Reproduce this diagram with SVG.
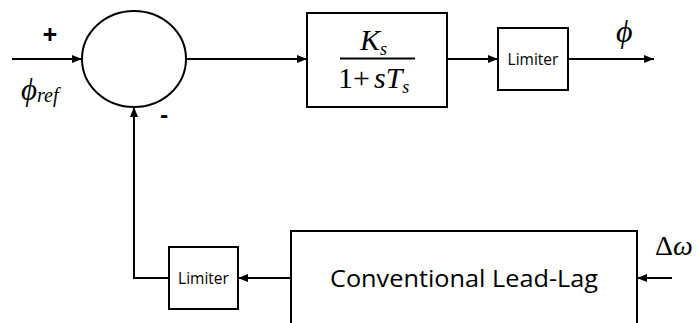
<svg xmlns="http://www.w3.org/2000/svg" width="697" height="323" viewBox="0 0 697 323">
<defs>
<marker id="arr" markerWidth="10" markerHeight="8" refX="10" refY="4" orient="auto" markerUnits="userSpaceOnUse">
<path d="M0,0 L10,4 L0,8 Z" fill="#000"/>
</marker>
<style>
.box{fill:#fff;stroke:#000;stroke-width:2}
.ln{fill:none;stroke:#000;stroke-width:2}
.sans{font-family:"Open Sans","Noto Sans","Liberation Sans",sans-serif;fill:#000}
.math{font-family:"Liberation Serif","DejaVu Serif",serif;fill:#000}
</style>
</defs>
<rect width="697" height="323" fill="#fff"/>
<g id="connectors">
<line class="ln" x1="12" y1="59" x2="82" y2="59" marker-end="url(#arr)"/>
<line class="ln" x1="186" y1="59" x2="307" y2="59" marker-end="url(#arr)"/>
<line class="ln" x1="447" y1="59" x2="498" y2="59" marker-end="url(#arr)"/>
<line class="ln" x1="568" y1="59" x2="654" y2="59" marker-end="url(#arr)"/>
<line class="ln" x1="672" y1="278" x2="637" y2="278" marker-end="url(#arr)"/>
<line class="ln" x1="291" y1="278" x2="238" y2="278" marker-end="url(#arr)"/>
<polyline class="ln" points="169,278 134,278 134,107" marker-end="url(#arr)"/>
</g>
<g id="sum">
<ellipse class="box" cx="134" cy="59" rx="52" ry="48"/>
<text class="sans" x="50" y="44" font-size="26" font-weight="bold" text-anchor="middle">+</text>
<text class="sans" x="164" y="123" font-size="24" font-weight="bold" text-anchor="middle">-</text>
</g>
<g id="input-label">
<text class="math" x="21" y="100" font-size="31" font-style="italic">ϕ<tspan font-size="20" dy="2">ref</tspan></text>
</g>
<g id="tf">
<rect class="box" x="307" y="13" width="140" height="94"/>
<text class="math" x="360" y="50" font-size="30" font-style="italic">K<tspan font-size="18" dy="5">s</tspan></text>
<line class="ln" x1="340" y1="58.5" x2="415" y2="58.5" stroke-width="1.5"/>
<text class="math" x="338" y="88" font-size="30">1+<tspan x="374" font-style="italic">sT</tspan><tspan font-size="18" font-style="italic" dy="5">s</tspan></text>
</g>
<g id="limiter-top">
<rect class="box" x="498" y="28" width="70" height="62"/>
<text class="sans" x="533" y="65" font-size="15.5" text-anchor="middle">Limiter</text>
</g>
<g id="output-label">
<text class="math" x="616" y="42" font-size="32" font-style="italic">ϕ</text>
</g>
<g id="leadlag">
<path class="ln" d="M291,325 L291,231 L637,231 L637,325"/>
<text class="sans" x="464" y="287" font-size="23" text-anchor="middle" textLength="268" lengthAdjust="spacingAndGlyphs">Conventional Lead-Lag</text>
</g>
<g id="limiter-bottom">
<rect class="box" x="169" y="247" width="69" height="62"/>
<text class="sans" x="203.5" y="284" font-size="15.5" text-anchor="middle">Limiter</text>
</g>
<g id="dw-label">
<text class="math" x="655" y="255" font-size="28">Δ<tspan font-style="italic">ω</tspan></text>
</g>
</svg>
